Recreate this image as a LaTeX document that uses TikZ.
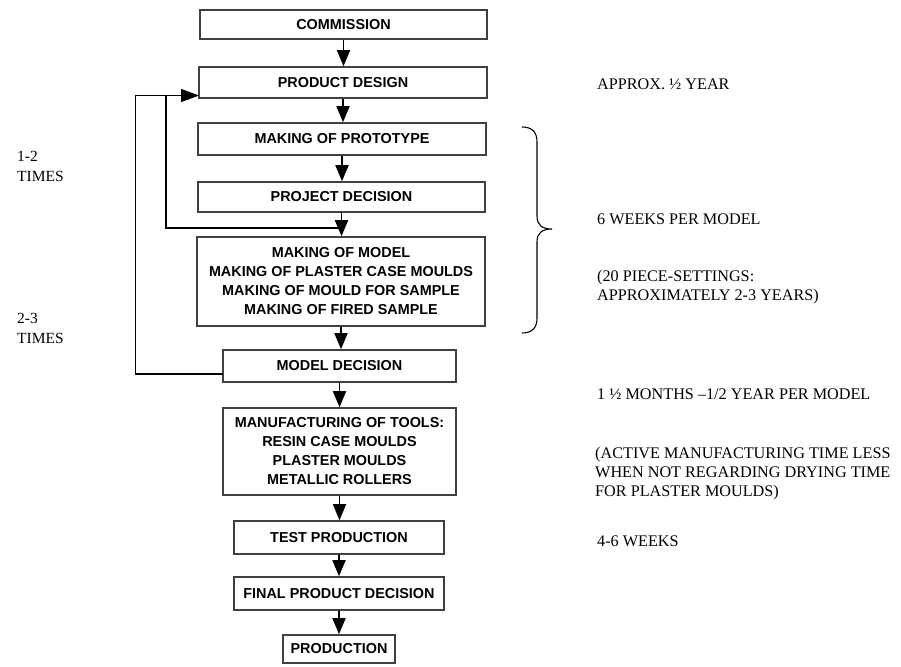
\documentclass[tikz,border=0pt]{standalone}
\usepackage{fontspec}
\setmainfont{Liberation Serif}
\newfontfamily\boxfont{Liberation Sans}
\usetikzlibrary{arrows.meta}
\begin{document}
\begin{tikzpicture}[x=1pt,y=-1pt,
  stepbox/.style={draw=black!75, line width=1.6pt, inner sep=0pt,
    font=\boxfont\bfseries\fontsize{14.4}{19}\selectfont, align=center},
  flow/.style={line width=1.8pt, -{Triangle[width=13pt,length=16pt]}},
  loopline/.style={line width=1.2pt},
  looparrow/.style={line width=1.2pt, -{Triangle[width=13pt,length=18pt]}},
  note/.style={anchor=base west, inner sep=0pt, font=\fontsize{16.2}{19}\selectfont, align=left},
  sidenote/.style={anchor=base west, inner sep=0pt, font=\fontsize{15.5}{20}\selectfont, align=left}]
\useasboundingbox (0,0) rectangle (901,666);

% process steps
\node[stepbox, minimum width=287pt, minimum height=29pt] (comm)  at (343.5,24.5) {COMMISSION};
\node[stepbox, minimum width=288pt, minimum height=31pt] (pd)    at (343,82.5)   {PRODUCT DESIGN};
\node[stepbox, minimum width=288pt, minimum height=32pt] (proto) at (342,139)    {MAKING OF PROTOTYPE};
\node[stepbox, minimum width=287pt, minimum height=30pt] (projd) at (341.5,197)  {PROJECT DECISION};
\node[stepbox, minimum width=288pt, minimum height=89pt] (model) at (341,281.5)  {MAKING OF MODEL\\MAKING OF PLASTER CASE MOULDS\\MAKING OF MOULD FOR SAMPLE\\MAKING OF FIRED SAMPLE};
\node[stepbox, minimum width=233pt, minimum height=32pt] (md)    at (339.5,366)  {MODEL DECISION};
\node[stepbox, minimum width=233pt, minimum height=87pt] (tools) at (339.5,451.5){MANUFACTURING OF TOOLS:\\RESIN CASE MOULDS\\PLASTER MOULDS\\METALLIC ROLLERS};
\node[stepbox, minimum width=210pt, minimum height=33pt] (test)  at (339,537.5)  {TEST PRODUCTION};
\node[stepbox, minimum width=210pt, minimum height=33pt] (final) at (339,593.5)  {FINAL PRODUCT DECISION};
\node[stepbox, minimum width=112pt, minimum height=28pt] (prod)  at (339,649)    {PRODUCTION};

% forward arrows
\draw[flow] (comm.south)  -- (comm.south |- pd.north);
\draw[flow] (pd.south)    -- (pd.south |- proto.north);
\draw[flow] (proto.south) -- (proto.south |- projd.north);
\draw[flow] (projd.south) -- (projd.south |- model.north);
\draw[flow] (model.south) -- (model.south |- md.north);
\draw[flow] (md.south)    -- (md.south |- tools.north);
\draw[flow] (tools.south) -- (tools.south |- test.north);
\draw[flow] (test.south)  -- (test.south |- final.north);
\draw[flow] (final.south) -- (final.south |- prod.north);

% feedback loops back to product design
\coordinate (pdin)  at (199,95.5);
\coordinate (mdout) at (223,374);
\coordinate (junc)  at (341.5,228);
\draw[loopline] (mdout) -| (135.5,95.5) -- (166,95.5);
\draw[loopline] (junc) -| (166,95.5);
\draw[looparrow] (166,95.5) -- (pdin);

% brace spanning prototype to sample
\draw[line width=1.1pt] (522,127) .. controls (532,127) and (537,132) .. (537,142)
  -- (537,216) .. controls (537,225) and (542,229) .. (552,229)
  .. controls (542,229) and (537,233) .. (537,242)
  -- (537,318) .. controls (537,328) and (532,333) .. (522,333);

% repetition counts (base = last line)
\node[sidenote] (rep1) at (17,181) {1-2\\TIMES};
\node[sidenote] (rep2) at (17,343) {2-3\\TIMES};

% durations (base = last line)
\node[note] (t1) at (597,90)  {APPROX. ½ YEAR};
\node[note] (t2) at (597,224) {6 WEEKS PER MODEL};
\node[note] (t3) at (597,300) {(20 PIECE-SETTINGS:\\APPROXIMATELY 2-3 YEARS)};
\node[note] (t4) at (597,399) {1 ½ MONTHS –1/2 YEAR PER MODEL};
\node[note] (t5) at (595,496) {(ACTIVE MANUFACTURING TIME LESS\\WHEN NOT REGARDING DRYING TIME\\FOR PLASTER MOULDS)};
\node[note] (t6) at (597,546) {4-6 WEEKS};
\end{tikzpicture}
\end{document}
